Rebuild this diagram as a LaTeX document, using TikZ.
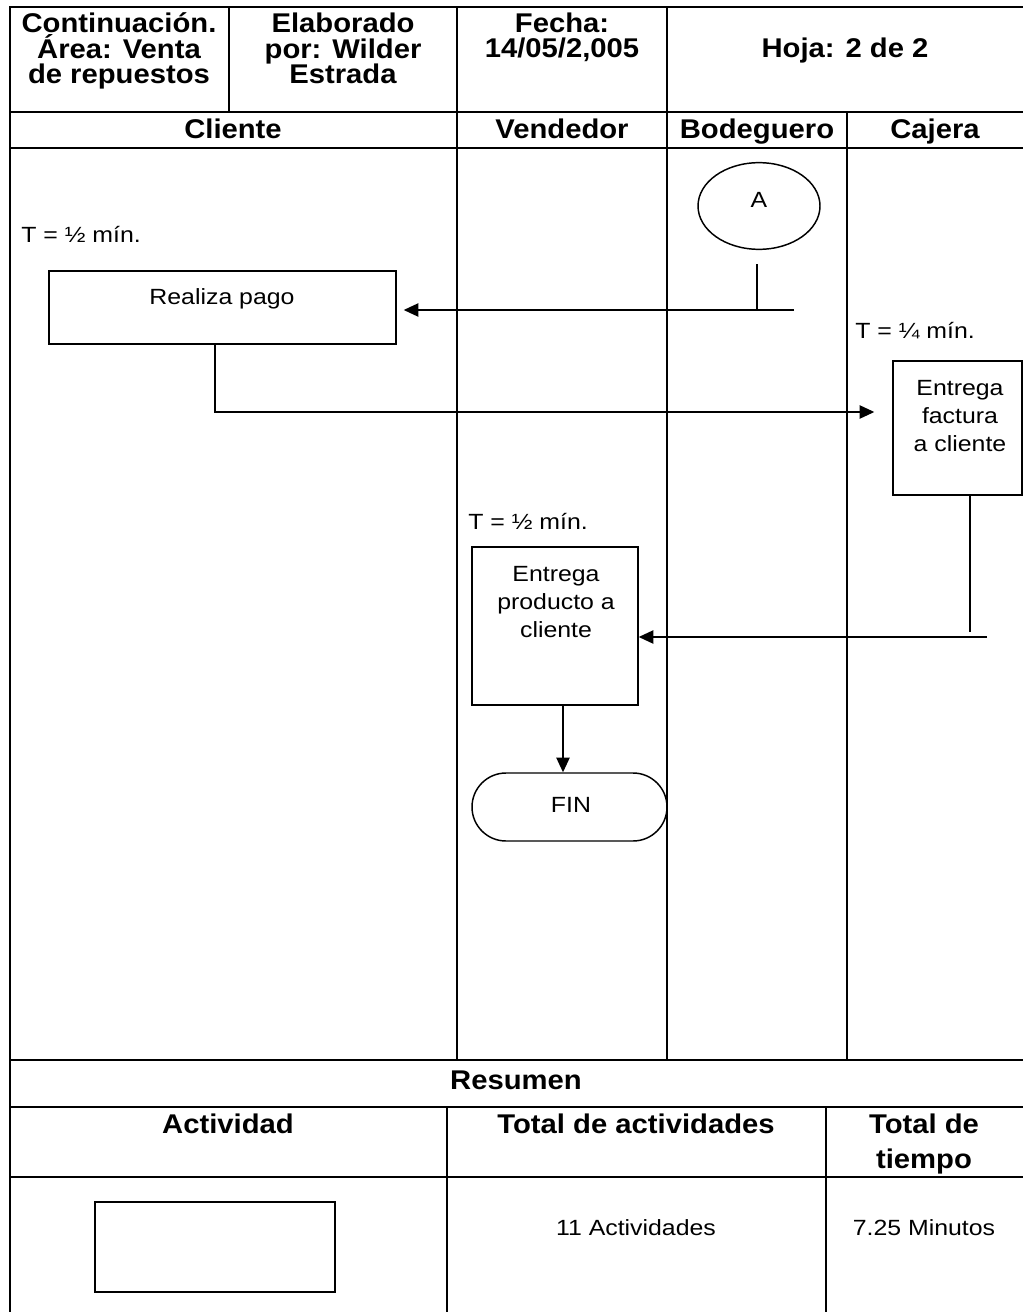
\documentclass[tikz,border=0pt]{standalone}
\usepackage{fontspec}
\setmainfont[FakeStretch=1.13]{Liberation Sans}
\newfontfamily\hdrfont[FakeStretch=1.08]{Liberation Sans}
\usetikzlibrary{arrows.meta,fit,shapes.geometric}

\begin{document}
\begin{tikzpicture}[x=0.75pt,y=-0.75pt,
  tbl/.style={line width=2pt},
  shp/.style={draw, line width=1.1pt, inner sep=0pt},
  conn/.style={line width=1.1pt},
  arr/.style={conn, -{Triangle[length=11pt,width=10pt]}},
  body/.style={inner sep=0pt, font=\fontsize{16.5}{21}\selectfont, align=center, anchor=base},
  bodyl/.style={body, anchor=base west},
  head/.style={inner sep=0pt, font=\hdrfont\bfseries\fontsize{20.3}{19.4}\selectfont, align=center, anchor=base}]

\useasboundingbox (0,0) rectangle (1023,1312);

% ---------- table frame ----------
\draw[tbl] (10,1313) -- (10,7) -- (1024,7);
\draw[tbl] (10,112) -- (1024,112);
\draw[tbl] (10,148) -- (1024,148);
\draw[tbl] (10,1060) -- (1024,1060);
\draw[tbl] (10,1107) -- (1024,1107);
\draw[tbl] (10,1177) -- (1024,1177);
% header columns
\draw[tbl] (229,7) -- (229,112);
\draw[tbl] (457,7) -- (457,1060);
\draw[tbl] (667,7) -- (667,1060);
\draw[tbl] (847,112) -- (847,1060);
% summary columns
\draw[tbl] (447,1107) -- (447,1313);
\draw[tbl] (826,1107) -- (826,1313);

% ---------- header texts (multi-line nodes sit on their last baseline) ----------
\node[head] (h1) at (119,84) {Continuación.\\Área: Venta\\de repuestos};
\node[head] (h2) at (343,84) {Elaborado\\por: Wilder\\Estrada};
\node[head] (h3) at (562,58) {Fecha:\\14/05/2,005};
\node[head] (h4) at (845,58) {Hoja: 2 de 2};
\node[head] (l1) at (233,139) {Cliente};
\node[head] (l2) at (562,139) {Vendedor};
\node[head] (l3) at (757,139) {Bodeguero};
\node[head] (l4) at (935,139) {Cajera};

% ---------- flow ----------
\node[shp, ellipse, minimum width=91.5pt, minimum height=65pt] (A) at (759,206) {};
\node[body] (Atxt) at (759,208) {A};

\node[bodyl] (t1) at (21,243) {T = ½ mín.};
\node[shp, fit={(49,271)(396,344)}] (pago) {};
\node[body] (pagotxt) at (222,305) {Realiza pago};

\node[bodyl] (t2) at (855,339) {T = ¼ mín.};
\node[shp, fit={(893,361)(1022,495)}] (fact) {};
\node[body] (facttxt) at (960,451) {Entrega\\factura\\a cliente};

\node[bodyl] (t3) at (468,529) {T = ½ mín.};
\node[shp, fit={(472,547)(638,705)}] (prod) {};
\node[body] (prodtxt) at (556,637) {Entrega\\producto a\\cliente};

\node[shp, rounded corners=25.5pt, fit={(472,773)(667,841)}] (fin) {};
\node[body] (fintxt) at (571,812) {FIN};

% connector from A to the payment
\coordinate (aj) at (757,310);
\coordinate (ae) at (794,310);
\draw[conn] (aj |- A.south) ++(0,14) -- (aj);
\draw[arr, shorten >=5.25pt] (ae) -- (ae -| pago.east);

% payment to invoice
\coordinate (p1) at (215,412);
\draw[arr, shorten >=13.5pt] (pago.south -| p1) -- (p1) -- (p1 -| fact.west);

% invoice to product delivery
\coordinate (f1) at (970,632);
\coordinate (f2) at (987,637);
\draw[conn] (fact.south -| f1) -- (f1);
\draw[arr] (f2) -- (f2 -| prod.east);

% product delivery to end
\coordinate (d1) at (563,0);
\draw[arr] (prod.south -| d1) -- (fin.north -| d1);

% ---------- summary ----------
\node[head] (res) at (516,1089) {Resumen};
\node[head] (s1) at (228,1133) {Actividad};
\node[head] (s2) at (636,1133) {Total de actividades};
\node[head, font=\hdrfont\bfseries\fontsize{20.3}{26.25}\selectfont] (s3) at (924,1168) {Total de\\tiempo};
\node[shp, fit={(95,1202)(335,1292)}] (act) {};
\node[body] (v1) at (636,1235) {11 Actividades};
\node[body] (v2) at (924,1235) {7.25 Minutos};
\end{tikzpicture}
\end{document}
